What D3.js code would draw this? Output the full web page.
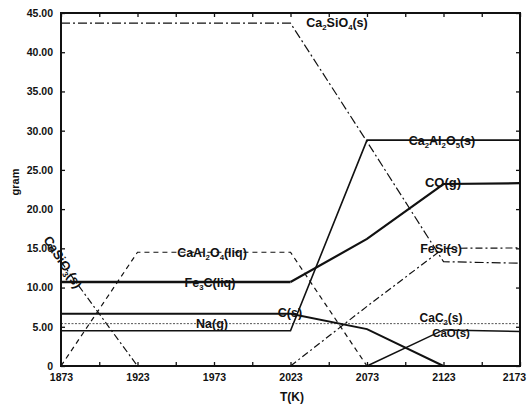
<!DOCTYPE html>
<html>
<head>
<meta charset="utf-8">
<script src="https://cdn.jsdelivr.net/npm/d3@7"></script>
<style>
  body { margin: 0; background: #fff; }
  text { font-family: "Liberation Sans", Arial, sans-serif; font-weight: bold; fill: #111; }
</style>
</head>
<body>
<div id="chart"></div>
<script>
// temperature grid (K)
const temps = [1873, 1923, 1973, 2023, 2073, 2123, 2173];

// grams of each phase at each temperature (null = not present)
const ca2sio4  = [43.7, 43.7, 43.7, 43.7, 28.6, 13.3, 13.1];
const ca2al2o5 = [4.5, 4.5, 4.5, 4.5, 28.8, 28.8, 28.8];
const fe3cLiq  = [10.7, 10.7, 10.7, 10.7, null, null, null];
const coGas    = [null, null, null, 10.7, 16.2, 23.2, 23.3];
const cSolid   = [6.65, 6.65, 6.65, 6.65, 4.7, 0, null];
const naGas    = [5.4, 5.4, 5.4, 5.4, 5.4, 5.4, 5.4];
const caal2o4  = [0, 14.5, 14.5, 14.5, 0, null, null];
const casio3   = [13.3, 0, null, null, null, null, null];
const fesi     = [null, null, null, 0, 7.6, 15.0, 15.05];
const cac2     = [null, null, null, null, 0, 4.6, 4.4];

const xTicks = [1873, 1923, 1973, 2023, 2073, 2123, 2173];
const yTicks = [0, 5, 10, 15, 20, 25, 30, 35, 40, 45];

const W = 530, H = 409;
const x = d3.scaleLinear().domain([1873, 2173]).range([61, 520]);
const y = d3.scaleLinear().domain([0, 45]).range([366, 13]);

const svg = d3.select('#chart').append('svg')
    .attr('width', W).attr('height', H);

// series styles
const series = [
    { v: ca2sio4,  w: 1.2, dash: '9,3,2,3' },
    { v: caal2o4,  w: 1.2, dash: '5,4' },
    { v: casio3,   w: 1.2, dash: '7,3,2,3' },
    { v: fesi,     w: 1.2, dash: '7,3,2,3' },
    { v: naGas,    w: 1.0, dash: '2,1.5', color: '#555' },
    { v: ca2al2o5, w: 1.6 },
    { v: fe3cLiq,  w: 2.4 },
    { v: coGas,    w: 2.2 },
    { v: cSolid,   w: 2.0 },
    { v: cac2,     w: 1.5 }
];

const line = d3.line()
    .defined(d => d[1] !== null)
    .x(d => x(d[0]))
    .y(d => y(d[1]));

series.forEach(s => {
    svg.append('path')
        .datum(temps.map((t, i) => [t, s.v[i]]))
        .attr('d', line)
        .style('fill', 'none')
        .style('stroke', s.color || '#111')
        .style('stroke-width', s.w)
        .style('stroke-dasharray', s.dash || null);
});

// axes (ticks inward)
const fmt = d => d === 0 ? '0' : d3.format('.2f')(d);
const minorX = d3.range(1873, 2174, 25);

svg.append('g').attr('transform', `translate(61,0)`)
    .call(d3.axisLeft(y).tickValues(yTicks).tickFormat(fmt).tickSize(-4).tickPadding(8))
    .call(g => g.select('.domain').remove());
svg.append('g').attr('transform', `translate(520,0)`)
    .call(d3.axisRight(y).tickValues(yTicks).tickFormat('').tickSize(-4))
    .call(g => g.select('.domain').remove());
svg.append('g').attr('transform', `translate(0,366)`)
    .call(d3.axisBottom(x).tickValues(minorX).tickSize(-4).tickPadding(8)
        .tickFormat(d => xTicks.includes(d) ? d : ''))
    .call(g => g.select('.domain').remove())
    .call(g => g.selectAll('.tick text').filter(d => d === 2173).attr('dx', -6));
svg.append('g').attr('transform', `translate(0,13)`)
    .call(d3.axisTop(x).tickValues(minorX).tickFormat('').tickSize(-4))
    .call(g => g.select('.domain').remove());

svg.selectAll('.tick line').style('stroke', '#111').style('stroke-width', 1.3);
svg.selectAll('.tick text').style('font-size', '10.5px').style('font-family', '"Liberation Sans", Arial, sans-serif')
    .style('font-weight', 'bold');

// frame
svg.append('rect')
    .attr('x', 61).attr('y', 13).attr('width', 459).attr('height', 353)
    .style('fill', 'none').style('stroke', '#111').style('stroke-width', 2);

// axis titles
svg.append('text').attr('x', 292).attr('y', 401).attr('text-anchor', 'middle')
    .style('font-size', '12px').text('T(K)');
svg.append('text').attr('transform', 'translate(19,182) rotate(-90)').attr('text-anchor', 'middle')
    .style('font-size', '11px').text('gram');

// phase labels; digits become subscripts
function label(txt, cx, cy, size, rot) {
    const t = svg.append('text')
        .attr('text-anchor', 'middle')
        .attr('transform', `translate(${cx},${cy}) rotate(${rot || 0})`)
        .attr('y', size * 0.36)
        .style('font-size', size + 'px');
    const parts = txt.match(/\d+|\D+/g);
    let sub = false;
    parts.forEach(p => {
        const isNum = /\d/.test(p);
        const ts = t.append('tspan').text(p);
        if (isNum) {
            ts.attr('dy', 3).style('font-size', (size * 0.62) + 'px');
            sub = true;
        } else if (sub) {
            ts.attr('dy', -3);
            sub = false;
        }
    });
}

label('Ca2SiO4(s)', 337, 22, 12.5);
label('Ca2Al2O5(s)', 442, 140, 12.5);
label('CO(g)', 443, 182, 13);
label('FeSi(s)', 441, 248, 12.5);
label('CaC2(s)', 441, 318, 12);
label('CaO(s)', 451, 333, 11.5);
label('CaAl2O4(liq)', 212, 252, 12.5);
label('Fe3C(liq)', 210, 282, 12.5);
label('Na(g)', 212, 323, 12.5);
label('C(s)', 290, 312, 12.5);
label('CaSiO3(s)', 63, 262, 13, 57);
</script>
</body>
</html>
